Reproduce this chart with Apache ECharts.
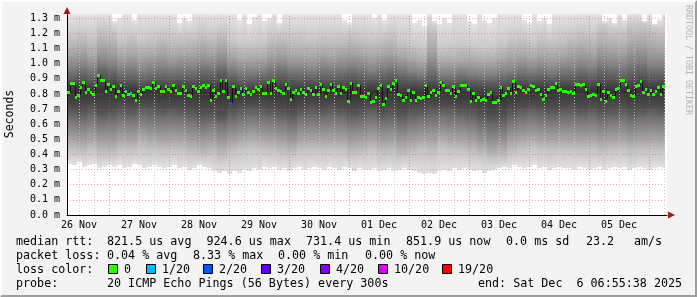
<!DOCTYPE html>
<html><head><meta charset="utf-8">
<script src="https://cdn.jsdelivr.net/npm/echarts@6/dist/echarts.min.js"></script>
<style>
html,body{margin:0;padding:0;background:#f3f3f3;}
#c{position:absolute;left:0;top:0;width:697px;height:297px;}
#frame{position:absolute;left:0;top:0;width:697px;height:297px;box-sizing:border-box;border:2px solid;border-color:#fdfdfd #9e9e9e #9e9e9e #fdfdfd;pointer-events:none;}
</style></head><body>
<div id="c"></div><div id="frame"></div>
<script>
// ---- time frame (hours since 26 Nov 00:00) ----
const START = 7.2;          // graph start
const SPAN = 240;           // 10 days
const DATA_END = START + 239;
const Y_MAX = 1.3285;       // ms

// ---- axis labels ----
const dayLabels = ['26 Nov','27 Nov','28 Nov','29 Nov','30 Nov','01 Dec','02 Dec','03 Dec','04 Dec','05 Dec'];
const dayLabelHours = [12,36,60,84,108,132,156,180,204,228];
const dayLineHours = [24,48,72,96,120,144,168,192,216,240];

// ---- median RTT per hour (ms) ----
const medianRtt = [
0.813,0.874,0.874,0.782,0.790,0.848,0.879,0.815,0.833,0.813,
0.800,0.857,0.925,0.894,0.894,0.822,0.866,0.835,0.853,0.784,
0.822,0.859,0.790,0.822,0.802,0.806,0.793,0.758,0.818,0.802,
0.833,0.844,0.848,0.842,0.877,0.840,0.855,0.818,0.818,0.853,
0.833,0.818,0.859,0.829,0.808,0.804,0.853,0.829,0.793,0.789,
0.851,0.837,0.822,0.844,0.859,0.844,0.857,0.758,0.826,0.789,
0.804,0.892,0.822,0.890,0.778,0.740,0.853,0.784,0.811,0.837,
0.797,0.837,0.813,0.797,0.820,0.844,0.835,0.853,0.808,0.808,
0.877,0.806,0.890,0.837,0.824,0.818,0.804,0.866,0.840,0.769,
0.815,0.826,0.808,0.835,0.811,0.802,0.840,0.824,0.797,0.848,
0.802,0.866,0.835,0.787,0.826,0.864,0.826,0.806,0.851,0.808,
0.846,0.833,0.751,0.870,0.811,0.811,0.862,0.787,0.787,0.782,
0.806,0.747,0.756,0.778,0.842,0.859,0.731,0.775,0.853,0.831,
0.870,0.894,0.797,0.793,0.760,0.778,0.829,0.762,0.813,0.758,
0.778,0.775,0.778,0.857,0.787,0.811,0.824,0.793,0.811,0.877,
0.857,0.829,0.829,0.804,0.853,0.787,0.822,0.857,0.857,0.857,
0.831,0.756,0.804,0.758,0.778,0.758,0.767,0.762,0.800,0.811,
0.749,0.749,0.760,0.848,0.795,0.808,0.840,0.804,0.883,0.813,
0.855,0.844,0.826,0.811,0.835,0.857,0.851,0.829,0.835,0.797,
0.769,0.793,0.835,0.846,0.848,0.872,0.826,0.835,0.818,0.822,
0.815,0.822,0.806,0.864,0.864,0.857,0.866,0.833,0.787,0.795,
0.800,0.793,0.866,0.769,0.822,0.753,0.813,0.793,0.782,0.835,
0.840,0.892,0.892,0.866,0.824,0.790,0.789,0.855,0.857,0.883,
0.813,0.833,0.802,0.826,0.797,0.818,0.846,0.797,0.853
];
// [hour index, lost pings of 20]
const lossEvents = [[25,1],[65,2]];

// ---- smoke: fastest / slowest ping per 2h (ms) ----
const minPing = [
0.34,0.33,0.35,0.32,0.33,0.34,0.31,0.32,0.33,0.32,
0.33,0.31,0.32,0.34,0.33,0.31,0.32,0.33,0.32,0.31,
0.32,0.33,0.31,0.32,0.30,0.31,0.33,0.32,0.31,0.29,
0.28,0.29,0.27,0.29,0.28,0.30,0.29,0.31,0.30,0.32,
0.31,0.32,0.30,0.31,0.29,0.31,0.32,0.30,0.31,0.32,
0.31,0.30,0.32,0.31,0.30,0.32,0.31,0.29,0.31,0.30,
0.30,0.31,0.29,0.30,0.31,0.29,0.30,0.31,0.30,0.29,
0.28,0.27,0.28,0.27,0.29,0.30,0.29,0.31,0.30,0.31,
0.30,0.29,0.30,0.28,0.29,0.30,0.31,0.32,0.31,0.33,
0.32,0.31,0.32,0.33,0.31,0.32,0.30,0.31,0.32,0.31,
0.31,0.30,0.32,0.31,0.30,0.31,0.32,0.30,0.31,0.32,
0.31,0.32,0.30,0.31,0.32,0.31,0.30,0.31,0.32,0.31
];
const maxPing = [
1.33,1.33,1.33,1.33,1.33,1.33,1.33,1.33,1.33,1.28,
1.30,1.33,1.33,1.29,1.33,1.33,1.33,1.33,1.33,1.33,
1.33,1.33,1.27,1.30,1.28,1.33,1.33,1.33,1.33,1.33,
1.33,1.33,1.33,1.33,1.29,1.33,1.26,1.31,1.33,1.28,
1.30,1.33,1.27,1.33,1.33,1.33,1.33,1.33,1.33,1.33,
1.33,1.33,1.33,1.33,1.33,1.29,1.27,1.33,1.33,1.33,
1.33,1.30,1.33,1.29,1.33,1.33,1.33,1.33,1.33,1.27,
1.29,1.25,1.33,1.28,1.26,1.30,1.27,1.33,1.33,1.33,
1.28,1.26,1.33,1.29,1.27,1.30,1.33,1.33,1.33,1.33,
1.33,1.29,1.27,1.33,1.28,1.30,1.26,1.33,1.33,1.33,
1.33,1.33,1.33,1.33,1.33,1.33,1.33,1.28,1.30,1.27,
1.33,1.29,1.33,1.33,1.33,1.28,1.33,1.26,1.29,1.33
];
// ---- smoke: ping spread per 4h (ms), lower and upper bounds of each shade ----
const lo1 = [0.42,0.41,0.43,0.40,0.40,0.43,0.42,0.44,0.43,0.42, 0.43,0.42,0.41,0.39,0.40,0.38,0.41,0.43,0.44,0.43, 0.42,0.41,0.40,0.42,0.43,0.42,0.43,0.42,0.40,0.41, 0.43,0.40,0.41,0.39,0.41,0.42,0.41,0.44,0.43,0.42, 0.41,0.39,0.37,0.38,0.41,0.43,0.44,0.43,0.42,0.43, 0.43,0.42,0.43,0.41,0.42,0.43,0.41,0.42,0.43,0.42];
const lo2 = [0.52,0.51,0.53,0.50,0.50,0.53,0.52,0.54,0.53,0.52, 0.53,0.52,0.51,0.49,0.50,0.48,0.51,0.53,0.54,0.53, 0.52,0.51,0.49,0.52,0.53,0.52,0.53,0.52,0.50,0.51, 0.53,0.50,0.51,0.49,0.51,0.52,0.52,0.54,0.53,0.52, 0.51,0.48,0.46,0.47,0.51,0.53,0.54,0.53,0.52,0.53, 0.53,0.52,0.53,0.51,0.52,0.53,0.51,0.52,0.53,0.52];
const lo3 = [0.62,0.61,0.63,0.60,0.61,0.63,0.62,0.64,0.63,0.62, 0.63,0.62,0.61,0.59,0.60,0.58,0.61,0.63,0.64,0.63, 0.62,0.61,0.59,0.62,0.63,0.62,0.63,0.62,0.60,0.61, 0.63,0.60,0.61,0.59,0.61,0.62,0.63,0.64,0.63,0.62, 0.61,0.58,0.56,0.57,0.61,0.63,0.64,0.63,0.62,0.63, 0.63,0.62,0.63,0.61,0.62,0.63,0.61,0.62,0.63,0.62];
const lo4 = [0.71,0.70,0.72,0.69,0.70,0.72,0.71,0.73,0.72,0.71, 0.72,0.71,0.70,0.68,0.69,0.67,0.70,0.72,0.73,0.72, 0.71,0.70,0.68,0.71,0.72,0.71,0.72,0.71,0.69,0.70, 0.72,0.69,0.70,0.68,0.70,0.71,0.72,0.73,0.72,0.71, 0.70,0.68,0.66,0.67,0.70,0.72,0.73,0.72,0.71,0.72, 0.72,0.71,0.72,0.70,0.71,0.72,0.70,0.71,0.72,0.71];
const hi4 = [0.90,0.91,0.89,0.93,0.92,0.89,0.90,0.88,0.89,0.90, 0.89,0.90,0.90,0.92,0.91,0.93,0.90,0.88,0.88,0.89, 0.90,0.91,0.90,0.89,0.89,0.90,0.89,0.90,0.91,0.90, 0.89,0.90,0.91,0.90,0.89,0.88,0.90,0.87,0.87,0.88, 0.88,0.87,0.87,0.88,0.89,0.90,0.89,0.90,0.89,0.90, 0.90,0.91,0.90,0.92,0.91,0.90,0.92,0.93,0.91,0.91];
const hi3 = [0.98,0.99,0.97,1.02,1.00,0.97,0.98,0.96,0.97,0.98, 0.97,0.98,0.98,1.00,0.99,1.01,0.97,0.95,0.95,0.96, 0.98,0.99,0.97,0.97,0.96,0.98,0.97,0.98,0.99,0.98, 0.96,0.98,0.99,0.97,0.95,0.94,0.99,0.94,0.94,0.95, 0.94,0.93,0.93,0.95,0.96,0.97,0.96,0.97,0.96,0.97, 0.98,0.99,0.98,1.01,1.00,0.99,1.02,1.03,1.00,1.00];
const hi2 = [1.07,1.09,1.06,1.12,1.10,1.06,1.07,1.05,1.06,1.08, 1.06,1.07,1.07,1.10,1.08,1.11,1.05,1.03,1.03,1.04, 1.07,1.08,1.06,1.06,1.05,1.07,1.06,1.07,1.08,1.07, 1.05,1.07,1.08,1.05,1.03,1.02,1.10,1.01,1.01,1.02, 1.02,1.01,1.01,1.03,1.05,1.06,1.04,1.06,1.05,1.06, 1.08,1.09,1.08,1.12,1.10,1.09,1.13,1.14,1.11,1.10];
const hi1 = [1.19,1.21,1.18,1.24,1.22,1.17,1.19,1.16,1.18,1.20, 1.18,1.19,1.19,1.22,1.20,1.23,1.16,1.14,1.14,1.15, 1.19,1.20,1.18,1.18,1.17,1.19,1.18,1.19,1.20,1.19, 1.17,1.19,1.20,1.16,1.13,1.12,1.25,1.11,1.12,1.13, 1.12,1.11,1.11,1.14,1.17,1.18,1.15,1.18,1.16,1.18, 1.20,1.22,1.21,1.25,1.23,1.22,1.26,1.27,1.24,1.23];

// ---- legend texts ----
const statRows = [
  {y:242, parts:[['median rtt:',16],['821.5 us avg',107],['924.6 us max',206.5],['731.4 us min',306],['851.9 us now',406],['0.0 ms sd',506],['23.2',586],['am/s',634]]},
  {y:255.5, parts:[['packet loss:',16],['0.04 % avg',107],['8.33 % max',193],['0.00 % min',278],['0.00 % now',365]]},
  {y:283.5, parts:[['probe:',16],['20 ICMP Echo Pings (56 Bytes) every 300s',107],['end: Sat Dec  6 06:55:38 2025',478]]}
];
const lossLegend = [
  {label:'0', lost:0}, {label:'1/20', lost:1}, {label:'2/20', lost:2}, {label:'3/20', lost:3},
  {label:'4/20', lost:4}, {label:'10/20', lost:10}, {label:'19/20', lost:19}
];
const lossLegendX = [108,146,203,261,320,378,442];

function lossColor(n){
  if(n<=0) return '#26ff00';
  if(n===1) return '#00b8ff';
  if(n===2) return '#0059ff';
  if(n===3) return '#5e00ff';
  if(n<10) return '#7e00ff';
  if(n<19) return '#dd00ff';
  return '#ff0000';
}

const chart = echarts.init(document.getElementById('c'), null, {renderer:'canvas'});

// segment data: [t0, bottomValue, topValue, t1]
function segData(n, bottomOf, topOf){
  const w = SPAN / n, out = [];
  for(let i=0;i<n;i++){
    out.push([START + i*w, bottomOf(i), topOf(i), Math.min(START + (i+1)*w, DATA_END)]);
  }
  return out;
}
function segSeries(data, topColor, bottomColor){
  return {type:'custom', coordinateSystem:'cartesian2d', silent:true, z:2, animation:false,
    data: data,
    renderItem: function(params, api){
      const topV = Math.min(api.value(2), Y_MAX), botV = api.value(1);
      if(topV <= botV) return null;
      const a = api.coord([api.value(0), topV]);
      const b = api.coord([api.value(3), botV]);
      const x0 = Math.round(a[0]), x1 = Math.round(b[0]);
      const y0 = Math.round(a[1]), y1 = Math.round(b[1]);
      return {type:'rect', shape:{x:x0, y:y0, width:x1-x0, height:y1-y0},
        style:{fill: new echarts.graphic.LinearGradient(0,0,0,1,[{offset:0,color:topColor},{offset:1,color:bottomColor}])}};
    }};
}

const lossMap = {};
lossEvents.forEach(e=>{ lossMap[e[0]] = e[1]; });
const medData = medianRtt.map((v,k)=>[START + k, v, k>0 ? medianRtt[k-1] : v, lossMap[k]||0, START + k + 1]);

const minorLines = [];
for(let t = 12; t < START + SPAN; t += 6){ if(t % 24 !== 0) minorLines.push(t); }

function vLines(list, color, z){
  return {type:'custom', coordinateSystem:'cartesian2d', silent:true, z:z, animation:false,
    data: list.map(t=>[t, 0]),
    renderItem: function(params, api){
      const a = api.coord([api.value(0), 0]);
      const b = api.coord([api.value(0), Y_MAX]);
      const x = Math.round(a[0]) + 0.5;
      return {type:'line', shape:{x1:x, y1:a[1], x2:x, y2:b[1]},
        style:{stroke:color, lineWidth:1, lineDash:[1,2]}};
    }};
}

const FONT = '11.7px "DejaVu Sans Mono"';
const graphics = [];
statRows.forEach(r=>r.parts.forEach(p=>{
  graphics.push({type:'text', x:p[1], y:r.y, silent:true,
    style:{text:p[0], fill:'#000', font:FONT, verticalAlign:'middle', align:'left'}});
}));
graphics.push({type:'text', x:16, y:269.5, silent:true,
  style:{text:'loss color:', fill:'#000', font:FONT, verticalAlign:'middle'}});
lossLegend.forEach((it,i)=>{
  const x = lossLegendX[i];
  graphics.push({type:'rect', silent:true, shape:{x:x+0.5, y:264.5, width:9, height:9},
    style:{fill:lossColor(it.lost), stroke:'#000', lineWidth:1}});
  graphics.push({type:'text', x:x+16, y:269.5, silent:true,
    style:{text:it.label, fill:'#000', font:FONT, verticalAlign:'middle'}});
});
graphics.push({type:'text', x:10.5, y:114, rotation:Math.PI/2, silent:true,
  style:{text:'Seconds', fill:'#000', font:'11.5px "DejaVu Sans Mono"', align:'center', verticalAlign:'middle'}});
graphics.push({type:'text', x:688, y:60, rotation:-Math.PI/2, silent:true,
  style:{text:'RRDTOOL / TOBI OETIKER', fill:'#b4b4b4', font:'8.3px "DejaVu Sans Mono"', align:'center', verticalAlign:'middle'}});
graphics.push({type:'polygon', silent:true, shape:{points:[[63.5,14],[70.5,14],[67,7]]}, style:{fill:'#a01818'}});
graphics.push({type:'polygon', silent:true, shape:{points:[[668,211.5],[668,218.5],[675,215]]}, style:{fill:'#a01818'}});

const c4 = j => Math.floor(j/2);   // 2h column -> 4h column
const smoke = [
  // outermost: fastest ping .. lo1, hi1 .. slowest ping
  segSeries(segData(minPing.length, j=>minPing[j], j=>lo1[c4(j)]), '#c4c4c4', '#e2e2e2'),
  segSeries(segData(maxPing.length, j=>hi1[c4(j)], j=>maxPing[j]), '#e4e4e4', '#cacaca'),
  segSeries(segData(lo1.length, i=>lo1[i], i=>lo2[i]), '#9c9c9c', '#c4c4c4'),
  segSeries(segData(hi1.length, i=>hi2[i], i=>hi1[i]), '#cacaca', '#a8a8a8'),
  segSeries(segData(lo2.length, i=>lo2[i], i=>lo3[i]), '#767676', '#9c9c9c'),
  segSeries(segData(hi2.length, i=>hi3[i], i=>hi2[i]), '#a8a8a8', '#848484'),
  segSeries(segData(lo3.length, i=>lo3[i], i=>lo4[i]), '#4e4e4e', '#767676'),
  segSeries(segData(hi3.length, i=>hi4[i], i=>hi3[i]), '#848484', '#5c5c5c'),
  {type:'custom', coordinateSystem:'cartesian2d', silent:true, z:2, animation:false,
    data: segData(lo4.length, i=>lo4[i], i=>hi4[i]),
    renderItem: function(params, api){
      const a = api.coord([api.value(0), Math.min(api.value(2), Y_MAX)]);
      const b = api.coord([api.value(3), api.value(1)]);
      const x0 = Math.round(a[0]), x1 = Math.round(b[0]);
      const y0 = Math.round(a[1]), y1 = Math.round(b[1]);
      return {type:'rect', shape:{x:x0, y:y0, width:x1-x0, height:y1-y0},
        style:{fill: new echarts.graphic.LinearGradient(0,0,0,1,[{offset:0,color:'#5c5c5c'},{offset:0.45,color:'#343434'},{offset:1,color:'#4e4e4e'}])}};
    }}
];

const option = {
  animation:false,
  backgroundColor:'#f3f3f3',
  grid:{left:67, top:14, width:600, height:201, show:true, backgroundColor:'#ffffff', borderWidth:0},
  xAxis:{type:'value', min:START, max:START+SPAN, z:3,
    axisLine:{show:true, lineStyle:{color:'#000', width:1}},
    axisTick:{show:false}, splitLine:{show:false},
    axisLabel:{customValues:dayLabelHours, margin:5, color:'#000', fontFamily:'DejaVu Sans Mono', fontSize:10,
      formatter:function(v){ const i = dayLabelHours.indexOf(Math.round(v)); return i>=0 ? dayLabels[i] : ''; }}
  },
  yAxis:{type:'value', min:0, max:Y_MAX, interval:0.1, z:3,
    axisLine:{show:true, lineStyle:{color:'#000', width:1}},
    axisTick:{show:false},
    splitLine:{show:true, showMaxLine:false, showMinLine:false, lineStyle:{color:'rgba(235,90,90,0.55)', type:[1,2], width:1}},
    axisLabel:{showMaxLabel:false, margin:7, padding:[2,0,0,0], color:'#000', fontFamily:'DejaVu Sans Mono', fontSize:10,
      formatter:function(v){ return v.toFixed(1) + ' m'; }}
  },
  graphic: graphics,
  series: smoke.concat([
    vLines(minorLines, 'rgba(200,200,200,0.9)', 3),
    vLines(dayLineHours, 'rgba(235,90,90,0.6)', 3),
    {type:'custom', coordinateSystem:'cartesian2d', silent:true, z:4, animation:false,
      data: medData,
      renderItem: function(params, api){
        const a = api.coord([api.value(0), api.value(1)]);
        const b = api.coord([api.value(4), api.value(1)]);
        const p = api.coord([api.value(0), api.value(2)]);
        const x0 = Math.round(a[0]), x1 = Math.round(b[0]);
        const y = Math.round(a[1]), yp = Math.round(p[1]);
        return {type:'group', children:[
          {type:'line', shape:{x1:x0+0.5, y1:Math.min(y,yp), x2:x0+0.5, y2:Math.max(y,yp)}, style:{stroke:'#141414', lineWidth:1}},
          {type:'rect', shape:{x:x0, y:y-1, width:Math.max(1,x1-x0), height:3}, style:{fill:lossColor(api.value(3))}}
        ]};
      }}
  ])
};
chart.setOption(option);
</script></body></html>
